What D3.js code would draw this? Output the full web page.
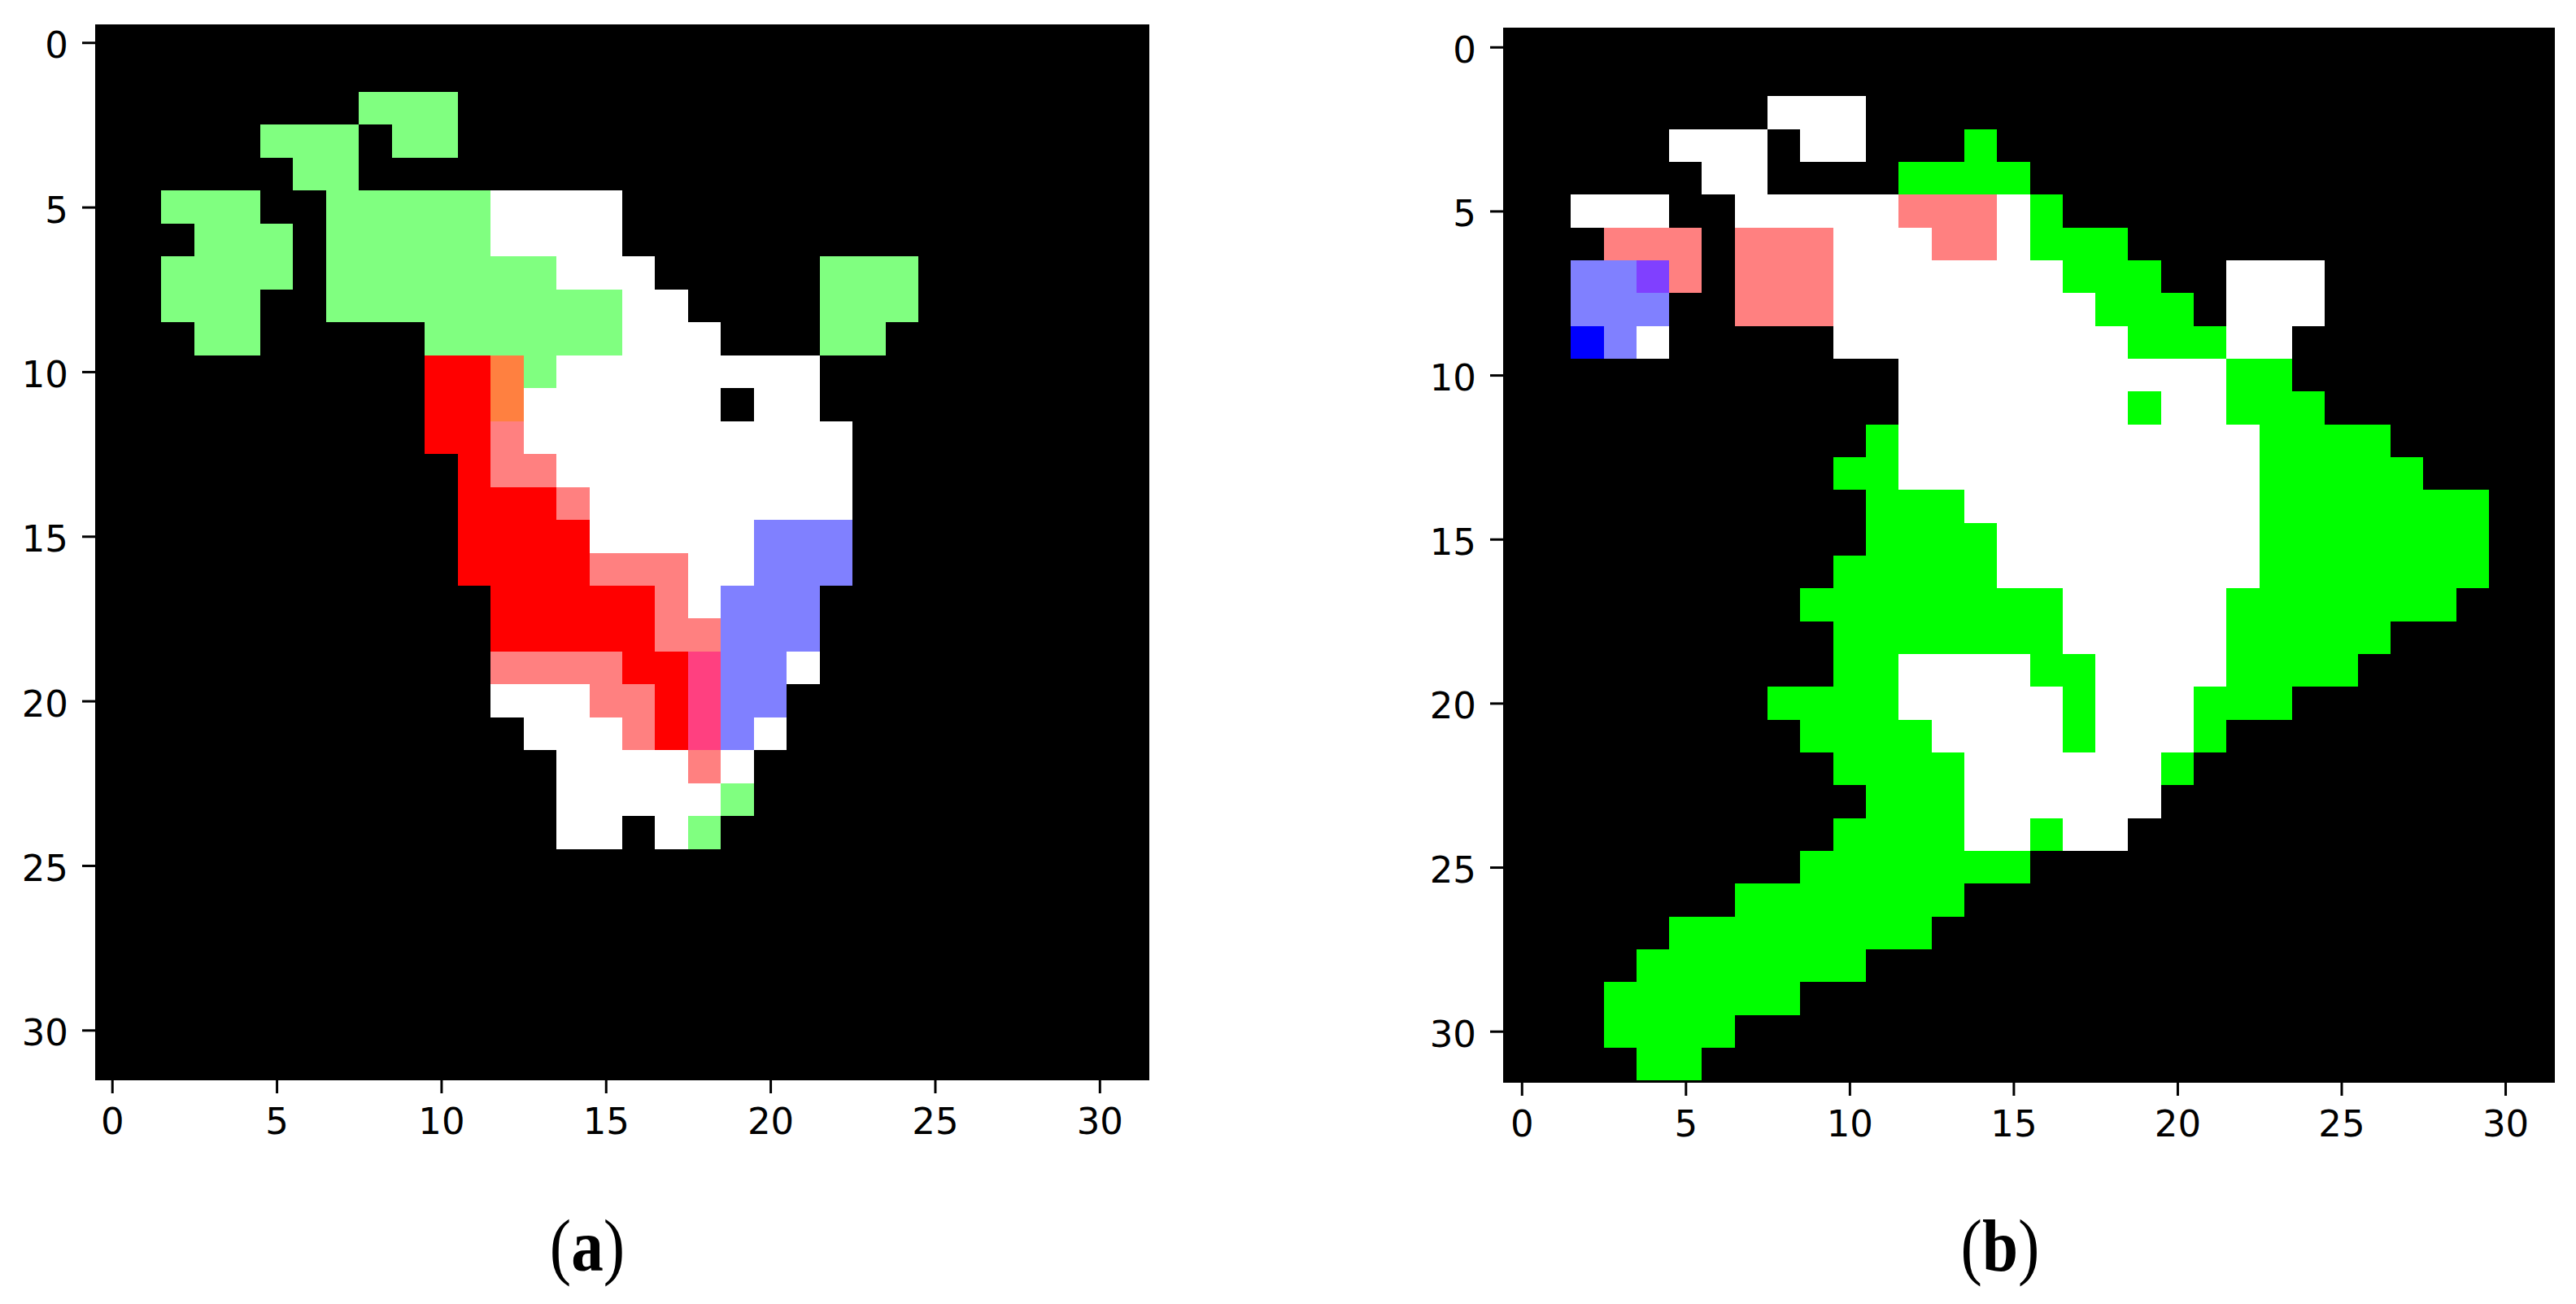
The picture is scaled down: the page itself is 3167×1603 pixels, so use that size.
<!DOCTYPE html>
<html><head><meta charset="utf-8">
<script src="https://cdnjs.cloudflare.com/ajax/libs/d3/7.8.5/d3.min.js"></script>
<style>html,body{margin:0;padding:0;background:#fff}svg{display:block}</style>
</head><body><div id="chart"></div>
<script>
const tickValues = [0, 5, 10, 15, 20, 25, 30];
const panelLabels = ["a", "b"];
const classCodes = ["W", "G", "N", "R", "P", "O", "M", "B", "L", "V"];
const classColours = ["#ffffff", "#80ff80", "#00ff00", "#ff0000", "#ff8080", "#ff8040", "#ff4080", "#8080ff", "#0000ff", "#8040ff"];
const panelARows = [
"","",
"........GGG",
".....GGG.GG",
"......GG",
"..GGG..GGGGGWWWW",
"...GGG.GGGGGWWWW",
"..GGGG.GGGGGGGWWW.....GGG",
"..GGG..GGGGGGGGGWW....GGG",
"...GG.....GGGGGGWWW...GG",
"..........RROGWWWWWWWW",
"..........RROWWWWWW.WW",
"..........RRPWWWWWWWWWW",
"...........RPPWWWWWWWWW",
"...........RRRPWWWWWWWW",
"...........RRRRWWWWWBBB",
"...........RRRRPPPWWBBB",
"............RRRRRPWBBB",
"............RRRRRPPBBB",
"............PPPPRRMBBW",
"............WWWPPRMBB",
".............WWWPRMBW",
"..............WWWWPW",
"..............WWWWWG",
"..............WW.WG"
];
const panelBRows = [
"","",
"........WWW",
".....WWW.WW...N",
"......WW....NNNN",
"..WWW..WWWWWPPPWN",
"...PPP.PPPWWWPPWNNN",
"..BBVP.PPPWWWWWWWNNN..WWW",
"..BBB..PPPWWWWWWWWNNN.WWW",
"..LBW.....WWWWWWWWWNNNWW",
"............WWWWWWWWWWNN",
"............WWWWWWWNWWNNN",
"...........NWWWWWWWWWWWNNNN",
"..........NNWWWWWWWWWWWNNNNN",
"...........NNNWWWWWWWWWNNNNNNN",
"...........NNNNWWWWWWWWNNNNNNN",
"..........NNNNNWWWWWWWWNNNNNNN",
".........NNNNNNNNWWWWWNNNNNNN",
"..........NNNNNNNWWWWWNNNNN",
"..........NNWWWWNNWWWWNNNN",
"........NNNNWWWWWNWWWNNN",
".........NNNNWWWWNWWWN",
"..........NNNNWWWWWWN",
"...........NNNWWWWWW",
"..........NNNNWWNWW",
".........NNNNNNN",
".......NNNNNNN",
".....NNNNNNNN",
"....NNNNNNN",
"...NNNNNN",
"...NNNN",
"....NN"
];

const W = 3167, H = 1603, N = 32;
const panels = [
  {rows: panelARows, label: panelLabels[0], x0: 117.5, x1: 1412.5, y0: 32, y1: 1327,
   frame: [117, 30, 1413, 1328], lx: 722},
  {rows: panelBRows, label: panelLabels[1], x0: 1850.6, x1: 3140.5, y0: 37.6, y1: 1328.2,
   frame: [1848, 34, 3141, 1331], lx: 2459}
];
const colour = d3.scaleOrdinal(classCodes, classColours);
const svg = d3.select("#chart").append("svg").attr("width", W).attr("height", H);

panels.forEach(p => {
  const x = d3.scaleLinear([-0.5, N - 0.5], [p.x0, p.x1]);
  const y = d3.scaleLinear([-0.5, N - 0.5], [p.y0, p.y1]);
  const [fx0, fy0, fx1, fy1] = p.frame;
  const g = svg.append("g");
  g.append("rect").attr("x", fx0).attr("y", fy0)
    .attr("width", fx1 - fx0).attr("height", fy1 - fy0).attr("fill", "#000");
  const cells = [];
  p.rows.forEach((row, r) => row.split("").forEach((code, c) => {
    if (code !== ".") cells.push({r, c, code});
  }));
  g.selectAll("rect.cell").data(cells).join("rect").attr("class", "cell")
    .attr("x", d => x(d.c - 0.5)).attr("y", d => y(d.r - 0.5))
    .attr("width", d => x(d.c + 0.5) - x(d.c - 0.5))
    .attr("height", d => y(d.r + 0.5) - y(d.r - 0.5))
    .attr("fill", d => colour(d.code))
    .attr("shape-rendering", "crispEdges");

  const axB = g.append("g").attr("transform", `translate(0,${fy1})`)
    .call(d3.axisBottom(x).tickValues(tickValues).tickSizeInner(16).tickSizeOuter(0).tickPadding(18).tickFormat(d3.format("d")));
  const axL = g.append("g").attr("transform", `translate(${fx0},0)`)
    .call(d3.axisLeft(y).tickValues(tickValues).tickSizeInner(16).tickSizeOuter(0).tickPadding(17).tickFormat(d3.format("d")));
  axL.selectAll("text").attr("dy", "0.41em");
  [axB, axL].forEach(a => {
    a.selectAll("text").attr("font-family", "'DejaVu Sans'").attr("font-size", 45).attr("fill", "#000");
    a.selectAll("line").attr("stroke", "#000").attr("stroke-width", 3);
    a.select(".domain").remove();
  });
  g.append("text").attr("transform", `translate(${p.lx},1562) scale(0.88,1)`).attr("text-anchor", "middle")
    .attr("font-family", "'Liberation Serif'").attr("font-size", 90).attr("fill", "#000")
    .call(t => {
      t.append("tspan").text("(");
      t.append("tspan").attr("font-weight", "bold").text(p.label);
      t.append("tspan").text(")");
    });
});
</script></body></html>
